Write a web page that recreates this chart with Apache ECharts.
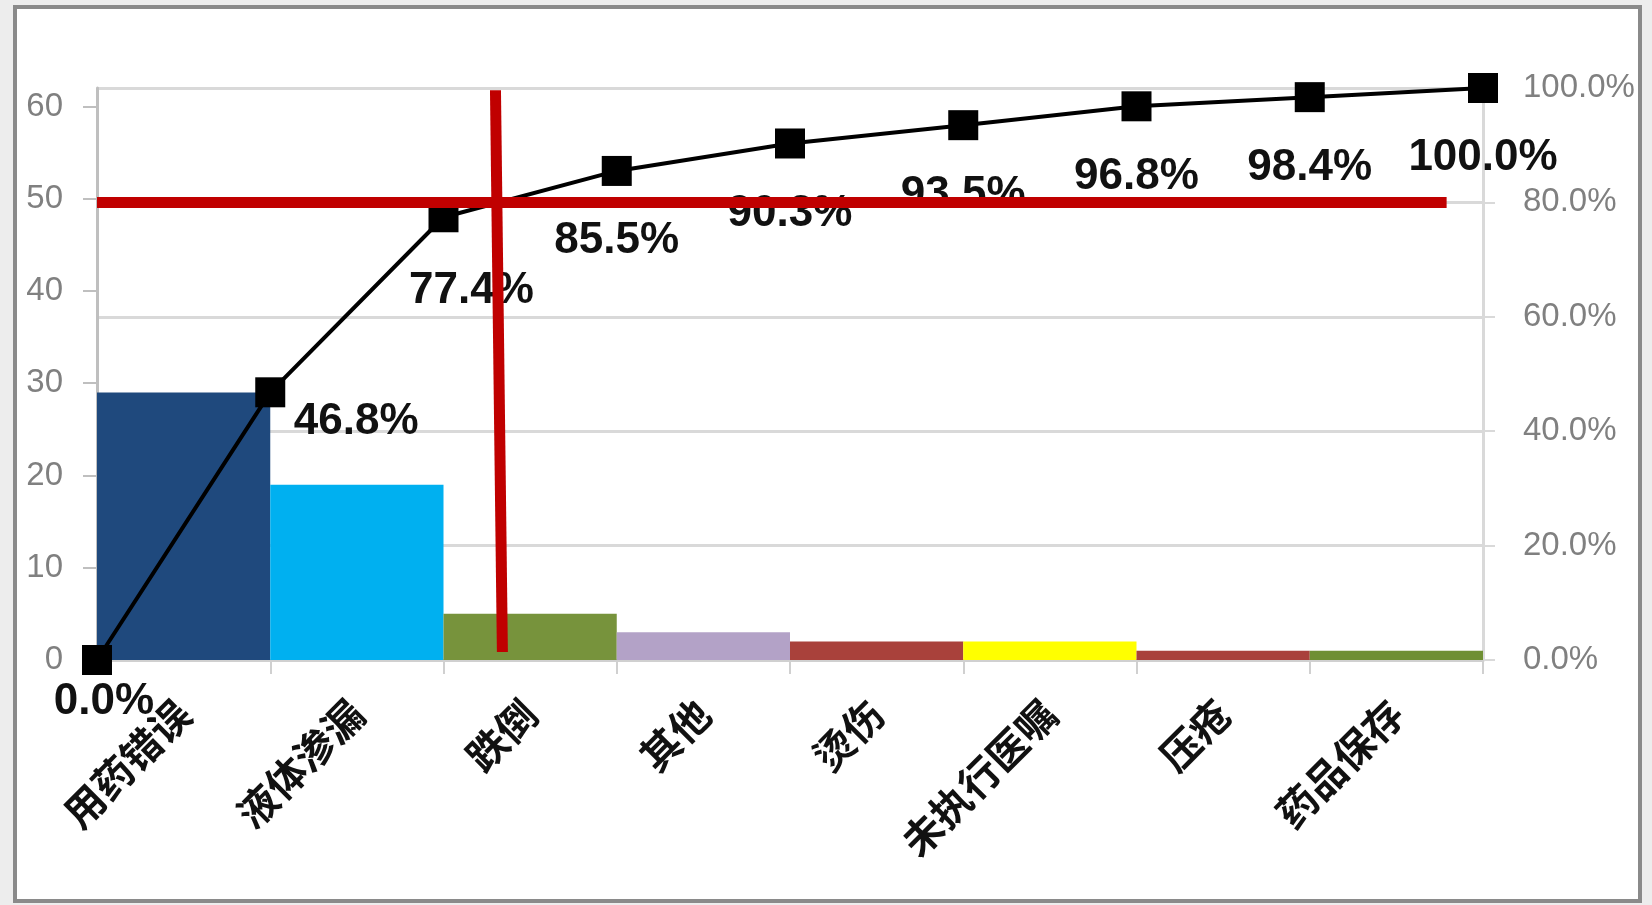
<!DOCTYPE html>
<html>
<head>
<meta charset="utf-8">
<script src="https://cdn.jsdelivr.net/npm/echarts@6/dist/echarts.min.js"></script>
<style>
  html, body { margin: 0; padding: 0; background: #ededed; }
  #chart { width: 1652px; height: 905px; }
</style>
</head>
<body>
<div id="chart"></div>
<script>
// ---- data ----
const categories = ['用药错误', '液体渗漏', '跌倒', '其他', '烫伤', '未执行医嘱', '压疮', '药品保存'];
const counts = [29, 19, 5, 3, 2, 2, 1, 1];
const cumulativePct = [0.0, 46.8, 77.4, 85.5, 90.3, 93.5, 96.8, 98.4, 100.0];
const countTicks = [0, 10, 20, 30, 40, 50, 60];
const countMax = 62;
const pctTicks = [0, 20, 40, 60, 80, 100];
const thresholdPct = 80;
const thresholdLine = [[0, 80], [7.79, 80]];
const cutoffLine = [[2.30, 99.6], [2.34, 1.4]];

// ---- styles ----
const barColors = ['#1F497D', '#00B0F0', '#77933C', '#B3A2C7', '#A9413B', '#FFFF00', '#A9413B', '#6F8F33'];
const labelOffsets = [[7, 42], [86, 30], [28, 74], [0, 70], [0, 70], [0, 70], [0, 71], [0, 71], [0, 70]];
const gray = '#808080';

const chart = echarts.init(document.getElementById('chart'));
chart.setOption({
  animation: false,
  backgroundColor: 'transparent',
  graphic: [{
    type: 'rect', z: -10, silent: true,
    shape: { x: 15, y: 7, width: 1625, height: 894 },
    style: { fill: '#ffffff', stroke: '#8a8a8a', lineWidth: 4 }
  }],
  grid: { left: 97, right: 169, top: 88, bottom: 245 },
  xAxis: [{
    type: 'category',
    data: categories,
    boundaryGap: true,
    axisLine: { lineStyle: { color: '#d0d0d0', width: 3 } },
    axisTick: { show: true, length: 14, lineStyle: { color: '#d0d0d0', width: 2 } },
    axisLabel: {
      rotate: 45, margin: 47, interval: 0,
      color: '#111', fontSize: 40, fontWeight: 'bold',
      fontFamily: '"Noto Sans CJK SC", sans-serif'
    }
  }, {
    type: 'value', min: 0, max: categories.length, show: false
  }],
  yAxis: [{
    type: 'value', min: 0, max: countMax, interval: 10,
    axisLine: { show: true, lineStyle: { color: '#bfbfbf', width: 3 } },
    axisTick: { show: true, length: 14, customValues: countTicks, lineStyle: { color: '#bfbfbf', width: 2 } },
    axisLabel: {
      customValues: countTicks, margin: 34, color: gray, fontSize: 33,
      fontFamily: '"Liberation Sans", Arial, sans-serif'
    },
    splitLine: { show: false }
  }, {
    type: 'value', min: 0, max: 100, interval: 20, position: 'right',
    axisLine: { show: true, lineStyle: { color: '#d9d9d9', width: 3 } },
    axisTick: { show: true, length: 12, lineStyle: { color: '#d9d9d9', width: 2 } },
    axisLabel: {
      margin: 40, color: gray, fontSize: 33,
      fontFamily: '"Liberation Sans", Arial, sans-serif',
      formatter: v => v.toFixed(1) + '%'
    },
    splitLine: { show: true, lineStyle: { color: '#d9d9d9', width: 3 } }
  }],
  series: [{
    type: 'bar',
    xAxisIndex: 0, yAxisIndex: 0,
    barCategoryGap: 0,
    data: counts.map((v, i) => ({ value: v, itemStyle: { color: barColors[i] } })),
    z: 2
  }, {
    type: 'line',
    xAxisIndex: 1, yAxisIndex: 1,
    data: cumulativePct.map((v, i) => ({
      value: [i, v],
      label: { offset: labelOffsets[i] }
    })),
    symbol: 'rect', symbolSize: 30,
    itemStyle: { color: '#000' },
    lineStyle: { color: '#000', width: 4 },
    label: {
      show: true, position: 'inside',
      formatter: p => p.value[1].toFixed(1) + '%',
      color: '#111', fontSize: 44, fontWeight: 'bold',
      fontFamily: '"Liberation Sans", Arial, sans-serif'
    },
    z: 3
  }, {
    type: 'line',
    xAxisIndex: 1, yAxisIndex: 1,
    data: thresholdLine,
    symbol: 'none', silent: true,
    lineStyle: { color: '#C00000', width: 11, cap: 'butt' },
    z: 10
  }, {
    type: 'line',
    xAxisIndex: 1, yAxisIndex: 1,
    data: cutoffLine,
    symbol: 'none', silent: true,
    lineStyle: { color: '#C00000', width: 11, cap: 'butt' },
    z: 10
  }]
});
</script>
</body>
</html>
